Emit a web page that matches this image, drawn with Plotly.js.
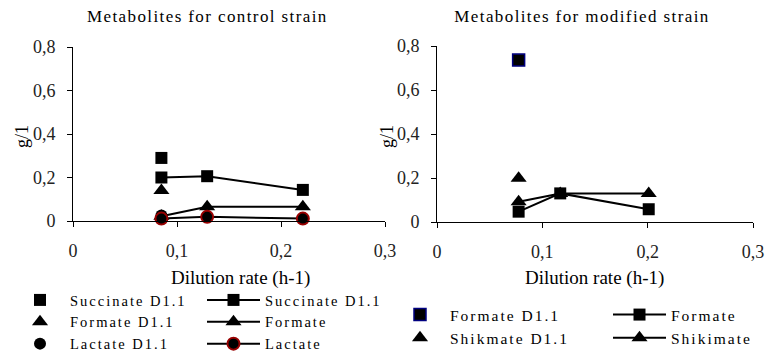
<!DOCTYPE html>
<html>
<head>
<meta charset="utf-8">
<script src="https://cdn.plot.ly/plotly-3.0.1.min.js"></script>
<style>
  html, body { margin: 0; padding: 0; background: #fff; }
  #chart { width: 765px; height: 354px; }
  .legendtext, .legend2text, .legend3text, .legend4text { letter-spacing: 2px; }
  .annotation[data-index="0"] text, .annotation[data-index="1"] text { letter-spacing: 1.4px; }
</style>
</head>
<body>
<div id="chart"></div>
<script>
// ---- Control strain ----
const ctrlPointX = [0.085];
const ctrlSuccinateD11 = [0.29];
const ctrlFormateD11 = [0.14];
const ctrlLactateD11 = [0.025];
const ctrlX = [0.085, 0.129, 0.221];
const ctrlSuccinate = [0.20, 0.206, 0.143];
const ctrlFormate = [0.022, 0.066, 0.066];
const ctrlLactate = [0.011, 0.019, 0.011];

// ---- Modified strain ----
const modPointX = [0.0775];
const modFormateD11 = [0.736];
const modShikimateD11 = [0.199];
const modX = [0.0775, 0.117, 0.201];
const modFormate = [0.047, 0.13, 0.058];
const modShikimate = [0.092, 0.13, 0.13];

// ---- Ticks ----
const xTickVals = [0, 0.1, 0.2, 0.3];
const xTickText = ["0", "0,1", "0,2", "0,3"];
const yTickVals = [0, 0.2, 0.4, 0.6, 0.8];
const yTickText = ["0", "0,2", "0,4", "0,6", "0,8"];

const W = 765, H = 354;
const px = v => v / W;
const py = v => 1 - v / H;
const serif = "Liberation Serif";

const sq = {symbol: "square", size: 12, color: "#000"};
const tri = {symbol: "triangle-up", size: 14, color: "#000"};
const circ = {symbol: "circle", size: 12, color: "#000"};
const blackLine = {color: "#000", width: 2};

const data = [
  {x: ctrlPointX, y: ctrlSuccinateD11, name: "Succinate D1.1", mode: "markers", marker: sq, xaxis: "x", yaxis: "y", legend: "legend", cliponaxis: false},
  {x: ctrlPointX, y: ctrlFormateD11, name: "Formate D1.1", mode: "markers", marker: tri, xaxis: "x", yaxis: "y", legend: "legend", cliponaxis: false},
  {x: ctrlPointX, y: ctrlLactateD11, name: "Lactate D1.1", mode: "markers", marker: circ, xaxis: "x", yaxis: "y", legend: "legend", cliponaxis: false},
  {x: ctrlX, y: ctrlSuccinate, name: "Succinate D1.1", mode: "lines+markers", marker: sq, line: blackLine, xaxis: "x", yaxis: "y", legend: "legend2", cliponaxis: false},
  {x: ctrlX, y: ctrlFormate, name: "Formate", mode: "lines+markers", marker: tri, line: blackLine, xaxis: "x", yaxis: "y", legend: "legend2", cliponaxis: false},
  {x: ctrlX, y: ctrlLactate, name: "Lactate", mode: "lines+markers", marker: {symbol: "circle", size: 12, color: "#000", line: {color: "#990000", width: 2}}, line: blackLine, xaxis: "x", yaxis: "y", legend: "legend2", cliponaxis: false},

  {x: modPointX, y: modFormateD11, name: "Formate D1.1", mode: "markers", marker: {symbol: "square", size: 12, color: "#000", line: {color: "#000080", width: 1.5}}, xaxis: "x2", yaxis: "y2", legend: "legend3", cliponaxis: false},
  {x: modPointX, y: modShikimateD11, name: "Shikmate D1.1", mode: "markers", marker: tri, xaxis: "x2", yaxis: "y2", legend: "legend3", cliponaxis: false},
  {x: modX, y: modFormate, name: "Formate", mode: "lines+markers", marker: sq, line: blackLine, xaxis: "x2", yaxis: "y2", legend: "legend4", cliponaxis: false},
  {x: modX, y: modShikimate, name: "Shikimate", mode: "lines+markers", marker: tri, line: blackLine, xaxis: "x2", yaxis: "y2", legend: "legend4", cliponaxis: false}
];

function xAxis(domain, anchor) {
  return {
    domain: domain, anchor: anchor, range: [0, 0.3],
    tickvals: xTickVals, ticktext: xTickText,
    showgrid: false, zeroline: false, showline: true, linecolor: "#000", linewidth: 1,
    ticks: "outside", ticklen: 5, tickcolor: "#000", ticklabelstandoff: 8,
    tickfont: {family: serif, size: 18, color: "#222"}, fixedrange: true
  };
}
function yAxis(domain, anchor) {
  return {
    domain: domain, anchor: anchor, range: [0, 0.8],
    tickvals: yTickVals, ticktext: yTickText,
    showgrid: false, zeroline: false, showline: true, linecolor: "#000", linewidth: 1,
    ticks: "outside", ticklen: 5, tickcolor: "#000", ticklabelstandoff: 8,
    tickfont: {family: serif, size: 18, color: "#222"}, fixedrange: true
  };
}
function leg(x, y, iw, fs) {
  return {x: x, y: y, xanchor: "left", yanchor: "top", bgcolor: "rgba(0,0,0,0)",
    borderwidth: 0, itemwidth: iw, font: {family: serif, size: fs, color: "#000"},
    traceorder: "normal", itemclick: false, itemdoubleclick: false};
}

const ann = (text, x, y, size, angle) => ({
  text: text, x: x, y: y, xref: "paper", yref: "paper", showarrow: false,
  xanchor: "center", yanchor: "middle", textangle: angle || 0,
  font: {family: serif, size: size, color: "#000"}
});

const layout = {
  width: W, height: H,
  margin: {l: 0, r: 0, t: 0, b: 0, autoexpand: false},
  paper_bgcolor: "#fff", plot_bgcolor: "#fff",
  showlegend: true,
  xaxis: xAxis([px(73), px(385)], "y"),
  yaxis: yAxis([py(221), py(47)], "x"),
  xaxis2: xAxis([px(437), px(753)], "y2"),
  yaxis2: yAxis([py(222), py(46)], "x2"),
  legend: leg(px(10), py(284), 50, 14.5),
  legend2: leg(px(202), py(284), 53, 14.5),
  legend3: leg(px(390), py(298), 50, 15.5),
  legend4: leg(px(608), py(298), 53, 15.5),
  annotations: [
    ann("Metabolites for control strain", px(208), py(17), 17),
    ann("Metabolites for modified strain", px(582), py(17), 17),
    ann("Dilution rate (h-1)", px(240), py(278), 19),
    ann("Dilution rate (h-1)", px(594), py(278), 19),
    ann("g/1", px(22), py(137), 18, -90),
    ann("g/1", px(387), py(137), 18, -90)
  ]
};

Plotly.newPlot("chart", data, layout, {displayModeBar: false, staticPlot: true});
</script>
</body>
</html>
